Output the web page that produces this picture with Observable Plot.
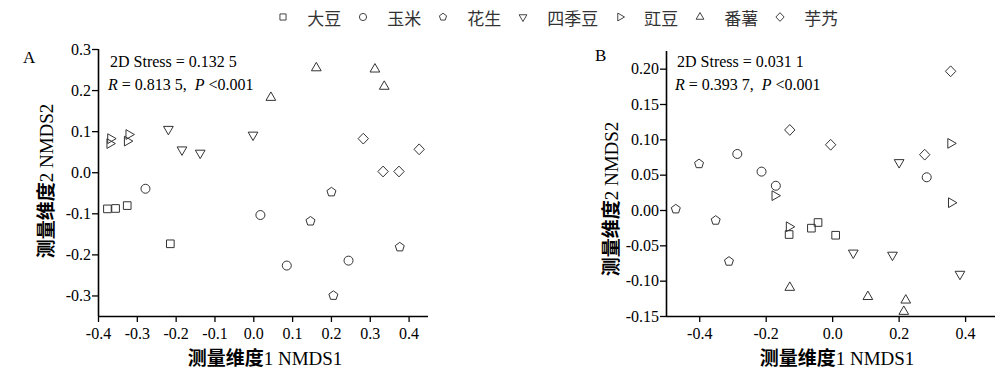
<!DOCTYPE html>
<html><head><meta charset="utf-8">
<script src="https://cdn.jsdelivr.net/npm/d3@7"></script>
<script src="https://cdn.jsdelivr.net/npm/@observablehq/plot@0.6"></script>
<style>
body{margin:0;background:#fff;width:1000px;height:384px;overflow:hidden;position:relative}
#legend{position:absolute;left:276.7px;top:0;height:34px;display:flex;align-items:center;font-family:"Noto Sans CJK SC",sans-serif;font-size:17px;color:#333}
#legend .item{display:flex;align-items:center;margin-right:15.4px}
#legend svg{margin-right:18.6px;overflow:visible}
#chartA{position:absolute;left:0;top:36px}
#chartB{position:absolute;left:500px;top:36px}
</style></head><body>
<div id="legend"></div>
<div id="chartA"></div><div id="chartB"></div>
<script>
// ---- data ----
const categories = ["大豆","玉米","花生","四季豆","豇豆","番薯","芋艿"];
const shapeNames = ["square","circle","pentagon","triangleDown","triangleRight","triangleUp","diamond"];

// Panel A (NMDS1, NMDS2) per category
const A_x = [
  [-0.377, -0.356, -0.326, -0.215],
  [-0.279, 0.017, 0.085, 0.244],
  [0.200, 0.146, 0.376, 0.205],
  [-0.220, -0.185, -0.138, -0.002],
  [-0.369, -0.371, -0.322, -0.326],
  [0.161, 0.312, 0.336, 0.044],
  [0.282, 0.426, 0.333, 0.374]
];
const A_y = [
  [-0.088, -0.087, -0.080, -0.173],
  [-0.039, -0.103, -0.226, -0.214],
  [-0.047, -0.118, -0.181, -0.299],
  [0.106, 0.056, 0.048, 0.092],
  [0.083, 0.071, 0.093, 0.077],
  [0.255, 0.252, 0.210, 0.183],
  [0.083, 0.057, 0.003, 0.003]
];
// Panel B
const B_x = [
  [-0.131, -0.064, -0.044, 0.009],
  [-0.287, -0.214, -0.171, 0.283],
  [-0.472, -0.402, -0.352, -0.312],
  [0.062, 0.180, 0.383, 0.200],
  [0.355, 0.357, -0.174, -0.131],
  [-0.129, 0.106, 0.220, 0.214],
  [-0.129, -0.006, 0.277, 0.355]
];
const B_y = [
  [-0.034, -0.025, -0.017, -0.035],
  [0.080, 0.055, 0.035, 0.047],
  [0.002, 0.066, -0.014, -0.072],
  [-0.060, -0.063, -0.090, 0.068],
  [0.095, 0.011, 0.021, -0.023],
  [-0.109, -0.122, -0.127, -0.143],
  [0.114, 0.093, 0.079, 0.197]
];

const A_xTicks = [-0.4,-0.3,-0.2,-0.1,0,0.1,0.2,0.3,0.4];
const A_yTicks = [-0.3,-0.2,-0.1,0,0.1,0.2,0.3];
const B_xTicks = [-0.4,-0.2,0,0.2,0.4];
const B_yTicks = [-0.15,-0.10,-0.05,0,0.05,0.10,0.15,0.20];

const A_stats = {stress: "0.132 5", R: "0.813 5", P: "<0.001"};
const B_stats = {stress: "0.031 1", R: "0.393 7", P: "<0.001"};

// ---- symbols ----
function poly(pts){
  return {draw(ctx,size){
    const r = Math.sqrt(size/Math.PI);
    pts.forEach(([a,b],i)=> i ? ctx.lineTo(a*r,b*r) : ctx.moveTo(a*r,b*r));
    ctx.closePath();
  }};
}
function ngon(n, start, rad){
  return poly(d3.range(n).map(k=>{const t=(start+360*k/n)*Math.PI/180; return [rad*Math.cos(t), rad*Math.sin(t)];}));
}
const symbolMap = {
  square: poly([[-0.85,-0.85],[0.85,-0.85],[0.85,0.85],[-0.85,0.85]]),
  circle: {draw(ctx,size){const r=Math.sqrt(size/Math.PI); ctx.moveTo(r,0); ctx.arc(0,0,r,0,2*Math.PI);}},
  pentagon: ngon(5,-90,1.05),
  triangleDown: ngon(3,90,1.25),
  triangleRight: ngon(3,0,1.25),
  triangleUp: ngon(3,-90,1.25),
  diamond: poly([[0,-1.2],[1.15,0],[0,1.2],[-1.15,0]])
};
const symbols = shapeNames.map(s=>symbolMap[s]);

// ---- legend ----
const legend = d3.select("#legend");
categories.forEach((c,i)=>{
  const it = legend.append("div").attr("class","item");
  const s = it.append("svg").attr("width",12).attr("height",12);
  s.append("path").attr("transform","translate(6,6)")
    .attr("d", d3.symbol(symbols[i], 3.6*3.6*Math.PI)())
    .attr("fill","none").attr("stroke","#444").attr("stroke-width",1);
  it.append("span").text(c);
});

// ---- panels ----
const serif = "'Liberation Serif', 'Times New Roman', Tinos, 'DejaVu Serif', serif";
const cjk = "'Noto Sans CJK SC', sans-serif";
function panel(X, Y, cfg){
  const fmt = d => d.toFixed(cfg.dec);
  const fmtX = d => d.toFixed(1);
  const marks = [
    Plot.axisX({ticks: cfg.xTicks, tickFormat: fmtX, tickSize: 6, tickPadding: 5, label: null, stroke:"black", strokeWidth:1.3, fontFamily: serif, fontSize: 16}),
    Plot.axisY({ticks: cfg.yTicks, tickFormat: fmt, tickSize: 6, tickPadding: 1.5, label: null, stroke:"black", strokeWidth:1.3, fontFamily: serif, fontSize: 16}),
    Plot.ruleX([cfg.xDomain[0]], {stroke:"black", strokeWidth:1.6}),
    Plot.ruleY([cfg.yDomain[0]], {stroke:"black", strokeWidth:1.6})
  ];
  categories.forEach((c,i)=>{
    const pts = X[i].map((x,j)=>({x, y: Y[i][j], c}));
    marks.push(Plot.dot(pts, {x:"x", y:"y", symbol: symbols[i], r:4.5, stroke:"#333", strokeWidth:1, fill:"none"}));
  });
  const svg = Plot.plot({
    width: 500, height: 348,
    marginLeft: cfg.ml, marginRight: cfg.mr, marginTop: cfg.mt, marginBottom: 68,
    x: {domain: cfg.xDomain},
    y: {domain: cfg.yDomain},
    style: {fontFamily: serif, fontSize: "16px", color: "black", background: "white", overflow: "visible"},
    marks
  });
  const s = d3.select(svg);
  s.selectAll("text").style("font-family", serif);
  // panel letter
  s.append("text").attr("x", cfg.letterX).attr("y", cfg.letterY).attr("text-anchor","start").style("font-family", serif).attr("font-size", 17).attr("fill","black").text(cfg.letter);
  // stats
  const t1 = s.append("text").attr("x", cfg.statX).attr("y", 31).attr("text-anchor","start").style("font-family", serif).attr("font-size", 16).attr("fill","black");
  t1.text("2D Stress = " + cfg.stats.stress);
  const t2 = s.append("text").attr("x", cfg.statX - 2).attr("y", 54).attr("text-anchor","start").style("font-family", serif).attr("font-size", 16).attr("fill","black").style("white-space","pre");
  t2.append("tspan").attr("font-style","italic").text("R");
  t2.append("tspan").text(" = " + cfg.stats.R + ",  ");
  t2.append("tspan").attr("font-style","italic").text("P");
  t2.append("tspan").text(" " + cfg.stats.P);
  // axis labels
  const xl = s.append("text").attr("x", cfg.xLabelX).attr("y", 329).attr("text-anchor","middle").attr("font-size", 19).attr("fill","black");
  xl.append("tspan").style("font-family", cjk).attr("font-weight", 700).text("测量维度");
  xl.append("tspan").style("font-family", serif).text("1 NMDS1");
  const yl = s.append("text").attr("transform", `translate(${cfg.yLabelX},${cfg.yLabelY}) rotate(-90)`).attr("text-anchor","middle").attr("font-size", 19).attr("fill","black");
  yl.append("tspan").style("font-family", cjk).attr("font-weight", 700).text("测量维度");
  yl.append("tspan").style("font-family", serif).text("2 NMDS2");
  return svg;
}

document.getElementById("chartA").append(panel(A_x, A_y, {
  xDomain:[-0.4,0.45], yDomain:[-0.35,0.3], xTicks:A_xTicks, yTicks:A_yTicks, dec:1,
  ml:98, mr:72, mt:13, letter:"A", letterX:23, letterY:27, statX:110, stats:A_stats,
  xLabelX:265, yLabelX:53, yLabelY:145
}));
document.getElementById("chartB").append(panel(B_x, B_y, {
  xDomain:[-0.5,0.49], yDomain:[-0.15,0.225], xTicks:B_xTicks, yTicks:B_yTicks, dec:2,
  ml:166, mr:5, mt:15, letter:"B", letterX:95, letterY:25, statX:177, stats:B_stats,
  xLabelX:337, yLabelX:118, yLabelY:163
}));
</script>
</body></html>
